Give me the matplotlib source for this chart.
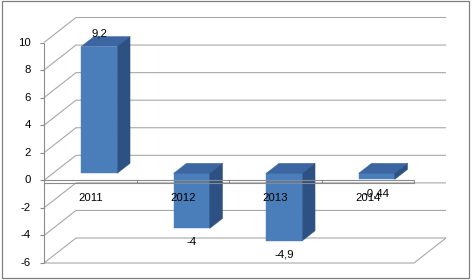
import matplotlib
matplotlib.use('Agg')
import matplotlib.pyplot as plt
from matplotlib.patches import Polygon, Rectangle
from matplotlib.transforms import ScaledTranslation, IdentityTransform

# data
years = ['2011', '2012', '2013', '2014']
values = [9.2, -4, -4.9, -0.44]
value_labels = ['9,2', '-4', '-4,9', '-0,44']
y_ticks = [-6, -4, -2, 0, 2, 4, 6, 8, 10]

DPI = 100
DX, DY = 32, 25            # depth of the plot box, pixels
BAR_D0, BAR_D1 = 0.28, 0.68  # bar front / back as fraction of depth
BAR_W = 0.39
FS = 8.2

FRONT = '#4a7ebb'
SIDE = '#2d5183'
TOP = '#3b66a1'
GRID = '#a8a8a8'
AXIS = '#8a8a8a'
TEXT = '#000000'

plt.rcParams['font.family'] = ['Liberation Sans', 'DejaVu Sans']

fig = plt.figure(figsize=(4.72, 2.8), dpi=DPI, facecolor='white')
ax = fig.add_axes([44 / 472, 17 / 280, 370 / 472, 220.5 / 280])
ax.set_xlim(-0.5, 3.5)
ax.set_ylim(-6, 10)
ax.axis('off')

PIX = IdentityTransform()


def proj(x, v, d):
    """data point pushed back d of the box depth, in display pixels"""
    px, py = ax.transData.transform((x, v))
    return (px + d * DX, py + d * DY)


def offset(dx, dy):
    return ax.transData + ScaledTranslation(dx / DPI, dy / DPI, fig.dpi_scale_trans)


def line(pts, color=GRID, lw=0.8, z=1):
    xs = [p[0] for p in pts]
    ys = [p[1] for p in pts]
    ax.plot(xs, ys, color=color, lw=lw, transform=PIX, clip_on=False,
            zorder=z, solid_capstyle='butt')


def poly(pts, color, z=2):
    ax.add_patch(Polygon(pts, closed=True, facecolor=color, edgecolor=color,
                         lw=0.3, transform=PIX, clip_on=False, zorder=z))


# === walls / gridlines ===
for v in y_ticks:
    line([proj(-0.5, v, 0), proj(-0.5, v, 1), proj(3.5, v, 1)])

# floor edge at the bottom
line([proj(-0.5, -6, 0), proj(3.5, -6, 0), proj(3.5, -6, 1)])

# front value axis with ticks and labels
line([proj(-0.5, -6, 0), proj(-0.5, 10, 0)], color=AXIS, z=3)
for v in y_ticks:
    x0, y0 = proj(-0.5, v, 0)
    line([(x0 - 4, y0), (x0, y0)], color=AXIS, z=3)
    ax.text(-0.5, v, str(v), transform=offset(-13, 0), ha='right', va='center',
            fontsize=FS, color=TEXT)

# === bars ===
for i, v in enumerate(values):
    x0, x1 = i - BAR_W / 2, i + BAR_W / 2
    top, bot = max(v, 0), min(v, 0)
    ax.bar(i, v, width=BAR_W, color=FRONT, edgecolor=FRONT, lw=0.3,
           transform=offset(BAR_D0 * DX, BAR_D0 * DY), clip_on=False, zorder=2)
    poly([proj(x0, top, BAR_D0), proj(x1, top, BAR_D0),
          proj(x1, top, BAR_D1), proj(x0, top, BAR_D1)], TOP)
    poly([proj(x1, bot, BAR_D0), proj(x1, top, BAR_D0),
          proj(x1, top, BAR_D1), proj(x1, bot, BAR_D1)], SIDE)

# === category axis: thin floor slab at zero ===
fx0, fy0 = proj(-0.5, 0, 0)
fx1, fy1 = proj(3.5, 0, 0)
line([(fx0, fy0), (fx1, fy1)], color=AXIS, z=3)
line([(fx0, fy0 - 2.5), (fx1, fy1 - 2.5), (fx1, fy1)], color=AXIS, z=3)
for k in range(1, len(years)):
    tx, ty = proj(k - 0.5, 0, 0)
    line([(tx, ty), (tx, ty - 2.5)], color=AXIS, z=3)

for i, yr in enumerate(years):
    ax.text(i, 0, yr, transform=offset(0, -18), ha='center', va='center',
            fontsize=FS, color=TEXT, zorder=4)

# data labels
for i, (v, lab) in enumerate(zip(values, value_labels)):
    dy = 13 if v >= 0 else -14
    ax.text(i, v, lab, transform=offset(BAR_D0 * DX, BAR_D0 * DY + dy),
            ha='center', va='center', fontsize=FS, color=TEXT, zorder=4)

# chart border
fig.add_artist(Rectangle((2 / 472, 2 / 280), 467 / 472, 277 / 280,
                         transform=fig.transFigure, fill=False,
                         edgecolor='#808080', lw=0.9))

fig.savefig('out.png', dpi=DPI, facecolor='white')
